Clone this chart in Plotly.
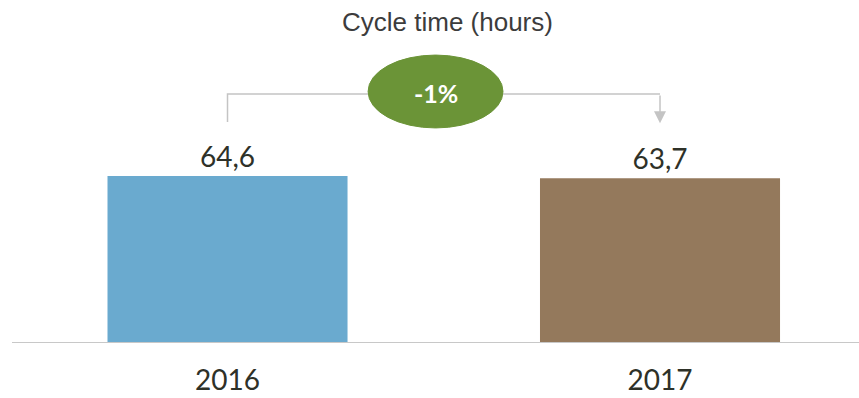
import plotly.graph_objects as go

# ---- data ----
years = ["2016", "2017"]
cycle_hours = [64.6, 63.7]
bar_colors = ["#6aaacf", "#94795c"]
change_label = "-1%"
title_text = "Cycle time (hours)"

x_pos = list(range(len(years)))

fig = go.Figure()
fig.add_trace(go.Bar(
    x=x_pos,
    y=cycle_hours,
    marker=dict(color=bar_colors, line=dict(width=0)),
    width=0.555,
    texttemplate="%{y:.1f}",
    textposition="outside",
    textfont=dict(family="Lato", size=28, color="#2e3128"),
    cliponaxis=False,
    hoverinfo="skip",
))

# bracket from first bar to second bar
bracket_y = 96.3
start_y = 85.5
fig.add_shape(type="path",
              path=f"M {x_pos[0]},{start_y} L {x_pos[0]},{bracket_y} L {x_pos[1]},{bracket_y}",
              xref="x", yref="y", line=dict(color="#c4c4c4", width=1.5))
fig.add_annotation(x=x_pos[1], y=85.0, ax=x_pos[1], ay=bracket_y,
                   xref="x", yref="y", axref="x", ayref="y",
                   text="", showarrow=True, arrowhead=2, arrowsize=1.6,
                   arrowwidth=1.5, arrowcolor="#c4c4c4")

# green ellipse with change label
fig.add_shape(type="circle", xref="x", yref="y",
              x0=0.325, x1=0.637, y0=83.2, y1=111.4,
              fillcolor="#6b9437", line=dict(color="#6b9437", width=1))
fig.add_annotation(x=0.481, y=96.8, xref="x", yref="y",
                   text=f"<b>{change_label}</b>", showarrow=False,
                   font=dict(family="Lato", size=25, color="white"))

# title (pixel x=447, y=22)
fig.add_annotation(x=(447 - 12) / 847, y=(343 - 22) / 343, xref="paper", yref="paper",
                   yanchor="middle", text=title_text, showarrow=False,
                   font=dict(family="Liberation Sans", size=26, color="#3c3c3c"))

fig.update_layout(
    width=859, height=398,
    margin=dict(l=12, r=0, t=0, b=55),
    paper_bgcolor="white", plot_bgcolor="white",
    separators=",.",
    showlegend=False,
    xaxis=dict(range=[-0.4983, 1.4601], tickvals=x_pos, ticktext=years,
               showgrid=False, zeroline=False, showline=False, automargin=False,
               ticks="outside", ticklen=12, tickcolor="rgba(0,0,0,0)",
               tickfont=dict(family="Lato", size=28, color="#2e3128")),
    yaxis=dict(range=[0, 132.7], visible=False, showgrid=False, zeroline=False,
               automargin=False),
)
# baseline
fig.add_shape(type="line", xref="paper", yref="y", x0=0, x1=1, y0=0, y1=0,
              line=dict(color="#c8c8c8", width=2), layer="above")

fig.write_html("out.html")
